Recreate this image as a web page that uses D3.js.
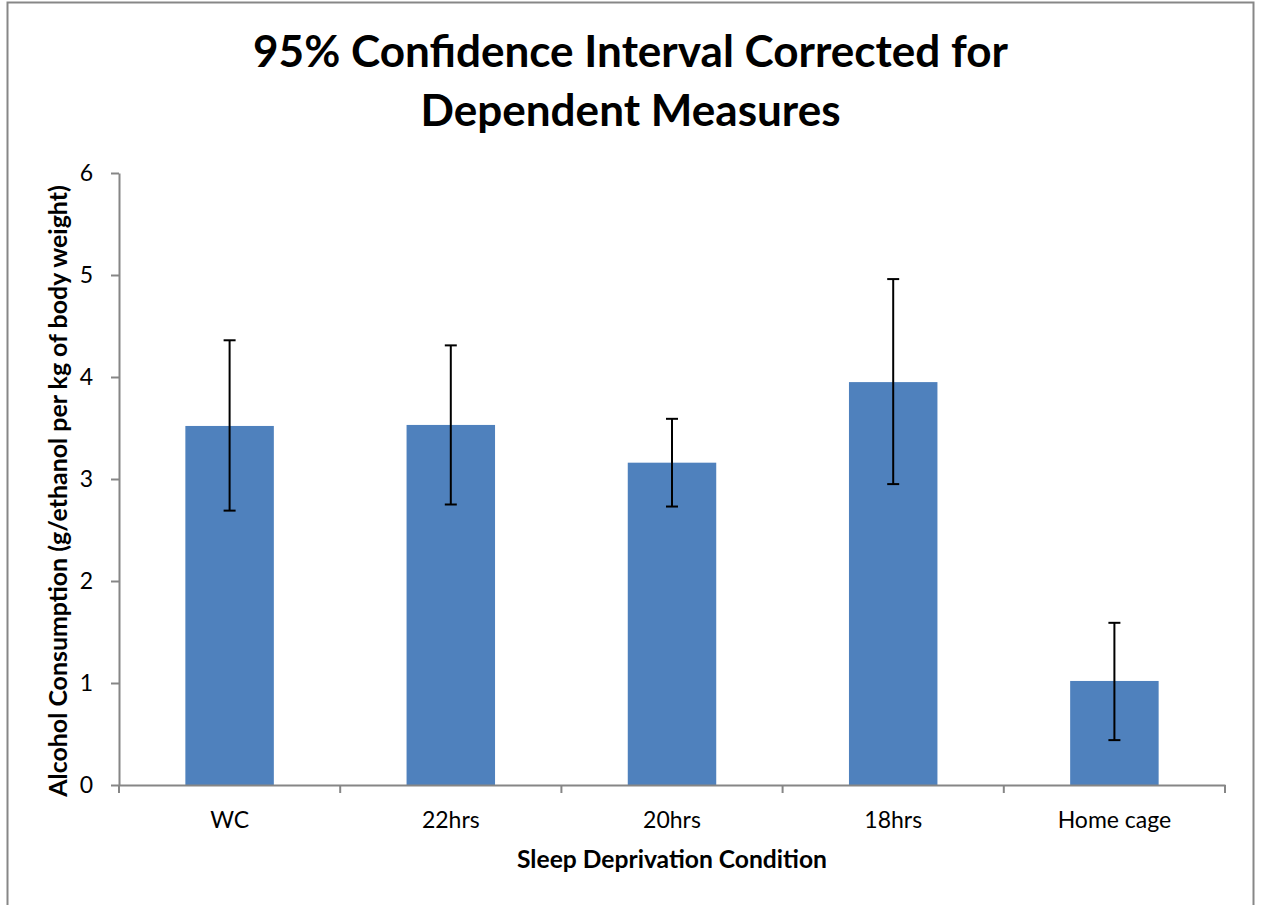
<!DOCTYPE html>
<html>
<head>
<meta charset="utf-8">
<script src="https://cdn.jsdelivr.net/npm/d3@7"></script>
<style>
  html, body { margin: 0; padding: 0; background: #fff; }
  svg { display: block; }
  text { font-family: Lato, "Open Sans", "Liberation Sans", sans-serif; fill: #000; }
</style>
</head>
<body>
<svg id="chart" width="1261" height="905"></svg>
<script>
const categories = ["WC", "22hrs", "20hrs", "18hrs", "Home cage"];
const means = [3.52, 3.53, 3.16, 3.95, 1.02];
const upper = [4.36, 4.31, 3.59, 4.96, 1.59];
const lower = [2.69, 2.75, 2.73, 2.95, 0.44];
const yTicks = [0, 1, 2, 3, 4, 5, 6];
const titleLines = ["95% Confidence Interval Corrected for", "Dependent Measures"];
const xTitle = "Sleep Deprivation Condition";
const yTitle = "Alcohol Consumption (g/ethanol per kg of body weight)";

const svg = d3.select("#chart");
const m = { left: 119, right: 1225, top: 173, bottom: 785 };

svg.append("rect")
  .attr("x", 7.5).attr("y", 2.5).attr("width", 1246).attr("height", 920)
  .attr("fill", "#fff").attr("stroke", "#878787").attr("stroke-width", 2);

const x = d3.scaleBand().domain(categories).range([m.left, m.right]).paddingInner(0).paddingOuter(0);
const y = d3.scaleLinear().domain([0, 6]).range([m.bottom, m.top]);

function fit(sel, targetW) {
  const node = sel.node();
  const fs = parseFloat(sel.attr("font-size"));
  const w = node.getComputedTextLength();
  if (w > 0) sel.attr("font-size", (fs * targetW / w).toFixed(2));
  return sel;
}

// Bars
const barW = x.bandwidth() * 0.4;
svg.append("g").selectAll("rect").data(categories).join("rect")
  .attr("x", d => x(d) + x.bandwidth() / 2 - barW / 2)
  .attr("y", (d, i) => y(means[i]))
  .attr("width", barW)
  .attr("height", (d, i) => y(0) - y(means[i]))
  .attr("fill", "#4F81BD");

// Error bars
const eg = svg.append("g").attr("stroke", "#000").attr("stroke-width", 2);
categories.forEach((c, i) => {
  const cx = x(c) + x.bandwidth() / 2;
  eg.append("line").attr("x1", cx).attr("x2", cx).attr("y1", y(upper[i])).attr("y2", y(lower[i]));
  eg.append("line").attr("x1", cx - 6).attr("x2", cx + 6).attr("y1", y(upper[i])).attr("y2", y(upper[i]));
  eg.append("line").attr("x1", cx - 6).attr("x2", cx + 6).attr("y1", y(lower[i])).attr("y2", y(lower[i]));
});

const tickFont = 23;

// Y axis
const yAxis = svg.append("g").attr("transform", `translate(${m.left},0)`)
  .call(d3.axisLeft(y).tickValues(yTicks).tickFormat(d3.format("d")).tickSize(8).tickPadding(18).tickSizeOuter(0));
yAxis.select(".domain").attr("stroke", "#868686").attr("stroke-width", 2);
yAxis.selectAll(".tick line").attr("stroke", "#868686").attr("stroke-width", 2);
yAxis.selectAll(".tick text").attr("font-size", tickFont).attr("font-family", "Lato, 'Open Sans', sans-serif").attr("fill", "#000");

// X axis
const xAxis = svg.append("g").attr("transform", `translate(0,${m.bottom})`)
  .call(d3.axisBottom(x).tickSize(0).tickPadding(27));
xAxis.select(".domain").attr("stroke", "#868686").attr("stroke-width", 2);
xAxis.selectAll(".tick text").attr("font-size", tickFont).attr("font-family", "Lato, 'Open Sans', sans-serif").attr("fill", "#000");
const bounds = categories.map(c => x(c)).concat([m.right]);
xAxis.selectAll(".bound").data(bounds).join("line").attr("class", "bound")
  .attr("x1", d => d).attr("x2", d => d).attr("y1", 0).attr("y2", 8)
  .attr("stroke", "#868686").attr("stroke-width", 2);

// Title
const t1 = svg.append("text").attr("x", 630.5).attr("y", 67).attr("text-anchor", "middle")
  .attr("font-weight", "bold").attr("font-size", 40).text(titleLines[0]);
fit(t1, 755);
svg.append("text").attr("x", 630.5).attr("y", 126).attr("text-anchor", "middle")
  .attr("font-weight", "bold").attr("font-size", t1.attr("font-size")).text(titleLines[1]);

// Axis titles
const xt = svg.append("text").attr("x", 672).attr("y", 868).attr("text-anchor", "middle")
  .attr("font-weight", "bold").attr("font-size", 20).text(xTitle);
fit(xt, 310);
const yt = svg.append("text").attr("transform", "translate(67,491) rotate(-90)").attr("text-anchor", "middle")
  .attr("font-weight", "bold").attr("font-size", 20).text(yTitle);
fit(yt, 612);
</script>
</body>
</html>
